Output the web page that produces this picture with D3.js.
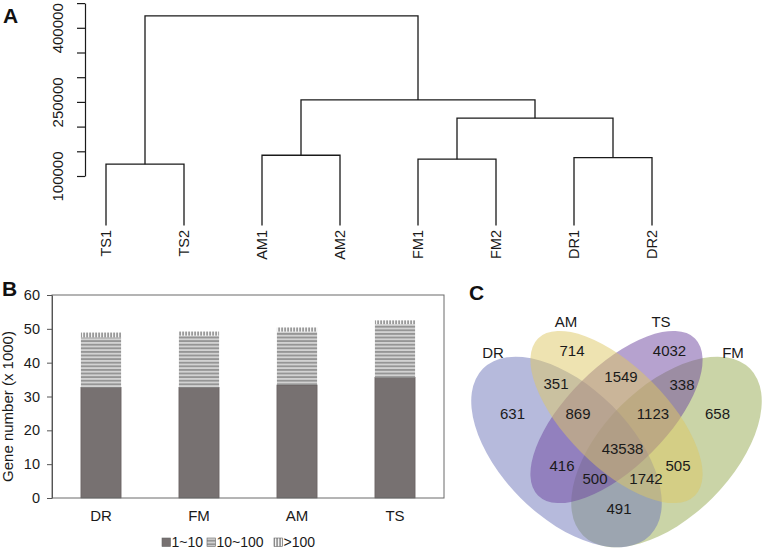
<!DOCTYPE html>
<html>
<head>
<meta charset="utf-8">
<script src="https://cdn.jsdelivr.net/npm/d3@7"></script>
<style>
  body { margin: 0; background: #fff; }
  svg { display: block; font-family: "Liberation Sans", Arial, sans-serif; }
</style>
</head>
<body>
<svg id="chart"></svg>
<script>
// ---- A: hierarchical clustering (R hclust merge format: negative = leaf)
const leaves = ["TS1", "TS2", "AM1", "AM2", "FM1", "FM2", "DR1", "DR2"];
const merges = [
  [-1, -2, 124000],
  [-3, -4, 142000],
  [-5, -6, 134000],
  [-7, -8, 137000],
  [3, 4, 217000],
  [2, 5, 254000],
  [1, 6, 424000]
];
const heightTicks = [100000, 150000, 200000, 250000, 300000, 350000, 400000, 450000];
const heightLabels = [100000, 250000, 400000];

// ---- B: gene number by expression bin (x 1000)
const tissues = ["DR", "FM", "AM", "TS"];
const bin1to10 = [32.7, 32.7, 33.4, 35.6];
const bin10to100 = [14.8, 15.3, 15.8, 15.8];
const binOver100 = [1.4, 1.2, 1.2, 1.1];
const bins = ["1~10", "10~100", ">100"];
const countTicks = [0, 10, 20, 30, 40, 50, 60];

// ---- C: venn
const vennSets = ["DR", "AM", "TS", "FM"];
const vennRegions = [
  {key: "AM", n: 714}, {key: "TS", n: 4032},
  {key: "DR&AM", n: 351}, {key: "AM&TS", n: 1549}, {key: "TS&FM", n: 338},
  {key: "DR", n: 631}, {key: "DR&AM&TS", n: 869}, {key: "AM&TS&FM", n: 1123}, {key: "FM", n: 658},
  {key: "DR&AM&TS&FM", n: 43538},
  {key: "DR&TS", n: 416}, {key: "AM&FM", n: 505},
  {key: "DR&TS&FM", n: 500}, {key: "DR&AM&FM", n: 1742},
  {key: "DR&FM", n: 491}
];

const svg = d3.select("#chart").attr("width", 762).attr("height", 553);

const defs = svg.append("defs");
const hp = defs.append("pattern").attr("id", "hstripe")
  .attr("patternUnits", "userSpaceOnUse").attr("width", 6).attr("height", 3.6);
hp.append("rect").attr("width", 6).attr("height", 3.6).attr("fill", "#d2d2d2");
hp.append("rect").attr("y", 1.8).attr("width", 6).attr("height", 1.8).attr("fill", "#959595");
const vp = defs.append("pattern").attr("id", "vstripe")
  .attr("patternUnits", "userSpaceOnUse").attr("width", 3).attr("height", 6);
vp.append("rect").attr("width", 3).attr("height", 6).attr("fill", "#9a9a9a");
vp.append("rect").attr("x", 1).attr("width", 1.2).attr("height", 6).attr("fill", "#f4f4f4");

function panelLetter(t, x, y) {
  svg.append("text").attr("x", x).attr("y", y).attr("font-size", 21)
    .attr("font-weight", "bold").attr("fill", "#111").text(t);
}

// ================= A
const gA = svg.append("g");
const hx = d3.scalePoint().domain(leaves).range([106, 652]);
const hy = d3.scaleLinear().domain([100000, 450000]).range([176, 3.1]);

const nodes = [];
function nodeOf(i) {
  return i < 0 ? {x: hx(leaves[-i - 1]), y: hy(0)} : nodes[i - 1];
}
merges.forEach(m => {
  const l = nodeOf(m[0]), r = nodeOf(m[1]);
  const ym = hy(m[2]);
  gA.append("path")
    .attr("d", `M${l.x},${l.y}V${ym}H${r.x}V${r.y}`)
    .attr("fill", "none").attr("stroke", "#1a1a1a").attr("stroke-width", 1.3);
  nodes.push({x: (l.x + r.x) / 2, y: ym});
});

gA.selectAll("text.leaf").data(leaves).join("text")
  .attr("class", "leaf")
  .attr("transform", d => `translate(${hx(d) + 5},230) rotate(-90)`)
  .attr("text-anchor", "end").attr("font-size", 14.5).attr("fill", "#1a1a1a")
  .text(d => d);

const axA = gA.append("g").attr("transform", "translate(85,0)")
  .call(d3.axisLeft(hy).tickValues(heightTicks).tickSize(8).tickSizeOuter(0)
    .tickFormat(d => heightLabels.includes(d) ? d : ""));
axA.selectAll("path, line").attr("stroke", "#1a1a1a").attr("stroke-width", 1.2);
axA.selectAll("text")
  .attr("x", null).attr("y", null).attr("dy", null)
  .attr("transform", "translate(-22,0) rotate(-90)")
  .attr("text-anchor", "middle").attr("font-size", 15).attr("fill", "#1a1a1a")
  .attr("font-family", null);
panelLetter("A", 3, 23);

// ================= B
const gB = svg.append("g");
const bx = d3.scaleBand().domain(tissues).range([52, 444]).paddingInner(0.59).paddingOuter(0.295);
const by = d3.scaleLinear().domain([0, 60]).range([498, 295]);

const stacked = tissues.map((t, i) => {
  const v = [bin1to10[i], bin10to100[i], binOver100[i]];
  let acc = 0;
  return v.map((val, k) => { const s = {t, k, y0: acc, y1: acc + val}; acc += val; return s; });
}).flat();
const binFill = ["#777171", "url(#hstripe)", "url(#vstripe)"];

gB.selectAll("rect.seg").data(stacked).join("rect")
  .attr("class", "seg")
  .attr("x", d => bx(d.t)).attr("width", bx.bandwidth())
  .attr("y", d => by(d.y1)).attr("height", d => by(d.y0) - by(d.y1))
  .attr("fill", d => binFill[d.k])
  .attr("stroke", d => d.k === 0 ? "#5f5a5a" : "none").attr("stroke-width", 0.6);

gB.append("rect").attr("x", 52).attr("y", by(60)).attr("width", 444 - 52).attr("height", by(0) - by(60))
  .attr("fill", "none").attr("stroke", "#6a6a6a").attr("stroke-width", 1);

const axB = gB.append("g").attr("transform", "translate(52,0)")
  .call(d3.axisLeft(by).tickValues(countTicks).tickSize(5).tickSizeOuter(0).tickPadding(7));
axB.select(".domain").attr("stroke", "#555");
axB.selectAll("line").attr("stroke", "#555");
axB.selectAll("text").attr("font-size", 14.5).attr("fill", "#1a1a1a").attr("font-family", null);

gB.selectAll("text.xl").data(tissues).join("text")
  .attr("class", "xl")
  .attr("x", d => bx(d) + bx.bandwidth() / 2).attr("y", 521)
  .attr("text-anchor", "middle").attr("font-size", 15).attr("fill", "#1a1a1a")
  .text(d => d);

gB.append("text")
  .attr("transform", `translate(13,${(by(0) + by(60)) / 2 + 10}) rotate(-90)`)
  .attr("text-anchor", "middle").attr("font-size", 15).attr("fill", "#1a1a1a")
  .text("Gene number (x 1000)");

// legend
const legX = [162, 207, 274];
const legend = gB.selectAll("g.leg").data(bins).join("g").attr("class", "leg")
  .attr("transform", (d, i) => `translate(${legX[i]},538)`);
legend.append("rect").attr("width", 8.5).attr("height", 8.5)
  .attr("fill", (d, i) => binFill[i]).attr("stroke", "#666").attr("stroke-width", 0.6);
legend.append("text").attr("x", 9.5).attr("y", 8.8).attr("font-size", 14).attr("fill", "#1a1a1a")
  .text(d => d);
panelLetter("B", 2, 296);

// ================= C
const vc = {x: 616.5, y: 440};
const ellipseLayout = {
  DR: {dx: -50, dy: 12, a: 118, b: 65, rot: 45, fill: "#6e76b9"},
  FM: {dx: 50, dy: 12, a: 118, b: 65, rot: -45, fill: "#96aa50"},
  AM: {dx: 0, dy: -23, a: 111, b: 50, rot: 45, fill: "#dec864"},
  TS: {dx: 0, dy: -23, a: 111, b: 50, rot: -45, fill: "#6e46a0"}
};
const labelLayout = {
  "AM": [-44.5, -89], "TS": [53, -89], "DR&AM": [-60.5, -56], "AM&TS": [4.5, -63], "TS&FM": [65.5, -55],
  "DR": [-104, -26], "DR&AM&TS": [-38.5, -26], "AM&TS&FM": [36.5, -26], "FM": [101, -26],
  "DR&AM&TS&FM": [6, 9], "DR&TS": [-54.5, 26], "AM&FM": [61.5, 26],
  "DR&TS&FM": [-21.5, 39], "DR&AM&FM": [29.5, 39], "DR&FM": [2.5, 69]
};
const setLabelLayout = {DR: [-123.5, -87], AM: [-50.5, -118], TS: [44.5, -118], FM: [116.5, -87]};

const gC = svg.append("g");
["FM", "DR", "TS", "AM"].forEach(s => {
  const e = ellipseLayout[s];
  const cx = vc.x + e.dx, cy = vc.y + e.dy;
  gC.append("ellipse").attr("cx", cx).attr("cy", cy).attr("rx", e.a).attr("ry", e.b)
    .attr("transform", `rotate(${e.rot},${cx},${cy})`)
    .attr("fill", e.fill).attr("fill-opacity", 0.5);
});
gC.selectAll("text.cnt").data(vennRegions).join("text")
  .attr("class", "cnt")
  .attr("x", d => vc.x + labelLayout[d.key][0]).attr("y", d => vc.y + labelLayout[d.key][1])
  .attr("dy", "0.36em").attr("text-anchor", "middle").attr("font-size", 15).attr("fill", "#1a1a1a")
  .text(d => d.n);
gC.selectAll("text.set").data(vennSets).join("text")
  .attr("class", "set")
  .attr("x", d => vc.x + setLabelLayout[d][0]).attr("y", d => vc.y + setLabelLayout[d][1])
  .attr("dy", "0.36em").attr("text-anchor", "middle").attr("font-size", 15).attr("fill", "#1a1a1a")
  .text(d => d);
panelLetter("C", 469, 300);
</script>
</body>
</html>
